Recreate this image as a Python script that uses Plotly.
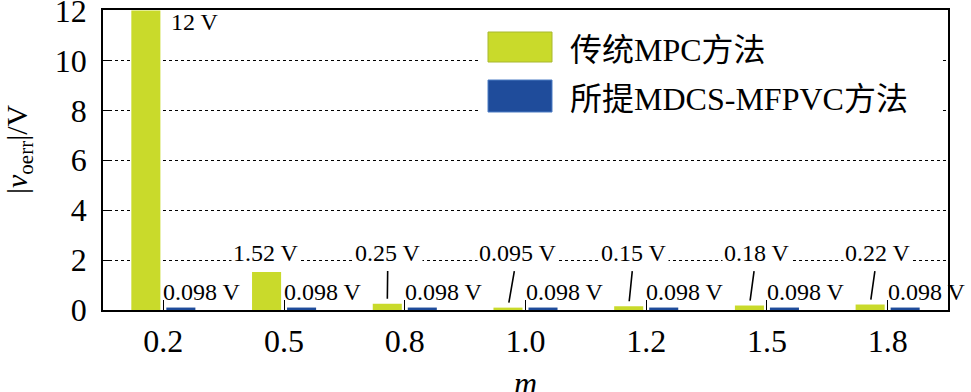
import plotly.graph_objects as go

# ---- data ----
categories = ["0.2", "0.5", "0.8", "1.0", "1.2", "1.5", "1.8"]
mpc_values = [12, 1.52, 0.25, 0.095, 0.15, 0.18, 0.22]
prop_values = [0.098, 0.098, 0.098, 0.098, 0.098, 0.098, 0.098]
mpc_labels = ["12 V", "1.52 V", "0.25 V", "0.095 V", "0.15 V", "0.18 V", "0.22 V"]
prop_labels = ["0.098 V"] * 7
series_names = ["传统MPC方法", "所提MDCS-MFPVC方法"]
y_ticks = [0, 2, 4, 6, 8, 10, 12]
x_title = "<i>m</i>"
y_title = "|<i>v</i><sub>oerr</sub>|/V"

GREEN = "#c9da2b"
BLUE = "#1f4c9b"
FONT = "Liberation Serif, Times New Roman, serif"
CJK = "Noto Sans CJK SC"

BARGAP = 0.42
BARGROUPGAP = 0.17
green_off = -(1 - BARGAP) / 4  # centre of the green bar inside a category

fig = go.Figure()
fig.add_trace(go.Bar(x=categories, y=mpc_values, name=series_names[0],
                     marker=dict(color=GREEN, line=dict(width=0)), showlegend=False))
fig.add_trace(go.Bar(x=categories, y=prop_values, name=series_names[1],
                     marker=dict(color=BLUE, line=dict(width=0)), showlegend=False))

annotations = []
# labels of the conventional method
label_y = 2.3
label_dx = [0.26, -0.15, -0.14, -0.066, -0.10, -0.086, -0.084]
for i, (v, t) in enumerate(zip(mpc_values, mpc_labels)):
    if i == 0:
        annotations.append(dict(x=i + label_dx[i], y=11.52, xref="x", yref="y", text=t,
                                showarrow=False, font=dict(size=24, family=FONT, color="black")))
    elif i == 1:
        annotations.append(dict(x=i + label_dx[i], y=label_y, xref="x", yref="y", text=t,
                                showarrow=False, bgcolor="white", borderpad=1,
                                font=dict(size=24, family=FONT, color="black")))
    else:
        annotations.append(dict(x=i + green_off, y=v, xref="x", yref="y", text=t,
                                ax=i + label_dx[i], ay=label_y, axref="x", ayref="y",
                                showarrow=True, arrowhead=0, arrowwidth=1.6, arrowcolor="black",
                                standoff=5, startstandoff=4, bgcolor="white", borderpad=1,
                                font=dict(size=24, family=FONT, color="black")))
# labels of the proposed method
for i, t in enumerate(prop_labels):
    annotations.append(dict(x=i, y=0.72, xref="x", yref="y", text=t, xanchor="left",
                            xshift=-1, showarrow=False, borderpad=0,
                            font=dict(size=24, family=FONT, color="black")))


def mixed(text):
    """Wrap CJK runs in a CJK font span, keep Latin runs in the serif font."""
    out, buf, is_cjk = [], "", None
    for ch in text:
        c = ord(ch) > 0x2E80
        if is_cjk is None or c == is_cjk:
            buf += ch
        else:
            out.append((buf, is_cjk))
            buf = ch
        is_cjk = c
    out.append((buf, is_cjk))
    html = ""
    for s, c in out:
        fam = CJK if c else "Liberation Serif"
        html += "<span style=\"font-family:'%s'\">%s</span>" % (fam, s)
    return html


# custom legend (large swatches on a white panel)
def px_x(p):
    return (p - 103) / 845.0

def px_y(p):
    return (310 - p) / 300.0

shapes = [
    dict(type="rect", xref="paper", yref="paper", x0=px_x(480), x1=px_x(943),
         y0=px_y(122), y1=px_y(22), fillcolor="white", line=dict(width=0), layer="above"),
    dict(type="rect", xref="paper", yref="paper", x0=px_x(488), x1=px_x(552),
         y0=px_y(62), y1=px_y(32), fillcolor=GREEN, line=dict(width=1, color="#a8b830"),
         layer="above"),
    dict(type="rect", xref="paper", yref="paper", x0=px_x(488), x1=px_x(552),
         y0=px_y(112), y1=px_y(80), fillcolor=BLUE, line=dict(width=1, color="#4d7cc4"),
         layer="above"),
]
for name, yc in zip(series_names, [47, 96]):
    annotations.append(dict(x=px_x(568), y=px_y(yc), xref="paper", yref="paper", text=mixed(name),
                            xanchor="left", yanchor="middle", showarrow=False,
                            font=dict(size=32, family=FONT, color="black")))

# axis titles as free text (the x title is partly cut by the image edge in the reference)
annotations.append(dict(x=0.5, y=px_y(383), xref="paper", yref="paper", text=x_title,
                        showarrow=False, xanchor="center", yanchor="middle",
                        font=dict(size=32, family=FONT, color="black")))
annotations.append(dict(x=px_x(19), y=px_y(150), xref="paper", yref="paper", text=y_title,
                        showarrow=False, textangle=-90, xanchor="center", yanchor="middle",
                        font=dict(size=30, family=FONT, color="black")))

fig.update_layout(
    width=971, height=392,
    margin=dict(l=103, r=23, t=10, b=82, autoexpand=False),
    paper_bgcolor="white", plot_bgcolor="white",
    barmode="group", bargap=BARGAP, bargroupgap=BARGROUPGAP,
    font=dict(family=FONT, color="black"),
    annotations=annotations, shapes=shapes,
    showlegend=False,
)
fig.update_xaxes(
    type="category", range=[-0.5, len(categories) - 0.5], autorange=False,
    showline=True, linecolor="black", linewidth=1.6, mirror=True,
    ticks="inside", ticklen=10, tickwidth=1.3, tickcolor="black",
    tickfont=dict(size=32, family=FONT), ticklabelstandoff=2,
    showgrid=False, zeroline=False,
)
fig.update_yaxes(
    range=[0, 12.02], autorange=False, tickvals=y_ticks, ticklabeloverflow="allow",
    showline=True, linecolor="black",
    linewidth=1.6, mirror=True, ticks="inside", ticklen=9, tickwidth=1.3, tickcolor="black",
    tickfont=dict(size=32, family=FONT), ticklabelstandoff=8,
    showgrid=True, gridcolor="black", griddash="dot", gridwidth=1.3, zeroline=False,
)

fig.write_html("out.html")
